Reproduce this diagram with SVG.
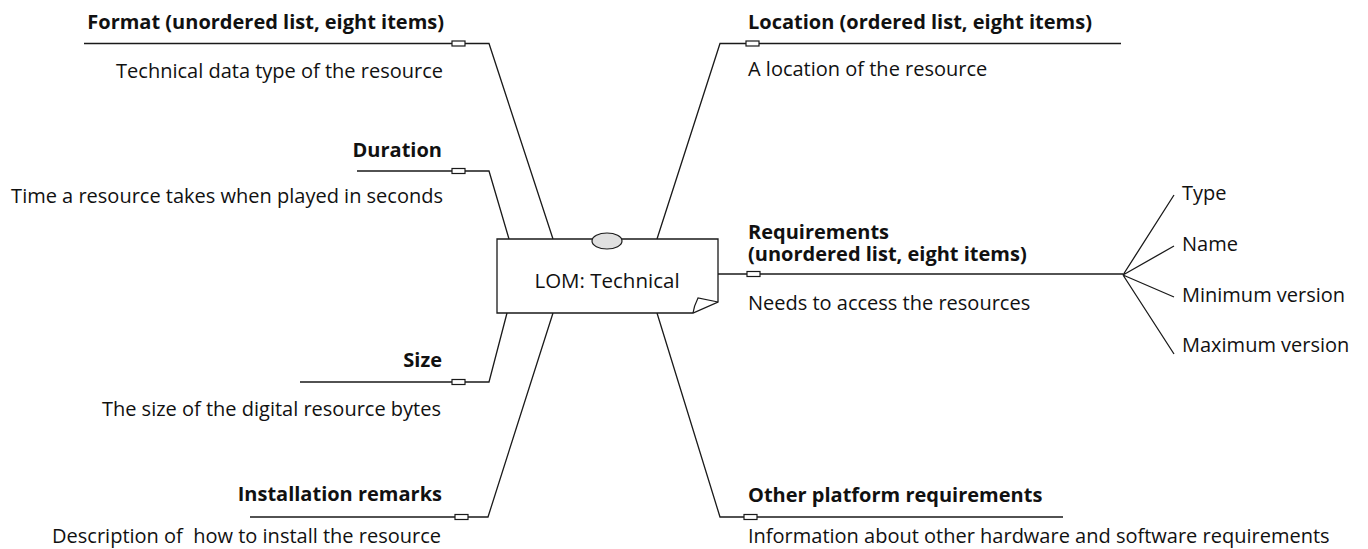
<svg xmlns="http://www.w3.org/2000/svg" width="1368" height="549" viewBox="0 0 1368 549">
<style>
.ln{fill:none;stroke:#1a1a1a;stroke-width:1.3}
.pt{fill:#fff;stroke:#1a1a1a;stroke-width:1.2}
.h{font-family:"Open Sans","Liberation Sans",sans-serif;font-size:20px;font-weight:bold;fill:#111}
.d{font-family:"Open Sans","Liberation Sans",sans-serif;font-size:20px;fill:#111;white-space:pre}
.r{text-anchor:end}
</style>
<rect width="1368" height="549" fill="#fff"/>
<g id="connectors">
<path class="ln" d="M84,43.5 H489 L553,239"/>
<path class="ln" d="M357,171 H489 L509,239"/>
<path class="ln" d="M300,382 H489 L507,313"/>
<path class="ln" d="M250,517 H488 L553,313"/>
<path class="ln" d="M1121,43.5 H720 L657,239"/>
<path class="ln" d="M718,274 H1123"/>
<path class="ln" d="M1063,517 H720 L657,313"/>
<path class="ln" d="M1123,275 L1174,195 M1123,275 L1174,246 M1123,275 L1174,297 M1123,275 L1174,354"/>
<rect class="pt" x="452" y="41" width="13" height="5"/>
<rect class="pt" x="452" y="168.5" width="13" height="5"/>
<rect class="pt" x="452" y="379.5" width="13" height="5"/>
<rect class="pt" x="455" y="514.5" width="13" height="5"/>
<rect class="pt" x="746" y="41" width="13" height="5"/>
<rect class="pt" x="747" y="271.5" width="13" height="5"/>
<rect class="pt" x="744" y="514.5" width="13" height="5"/>
</g>
<g id="center">
<path d="M497,239 H718 V302 L693,313 H497 Z" fill="#fff" stroke="#1a1a1a" stroke-width="1.3"/>
<path d="M718,302 L698,298 Q694,306 693,313" fill="none" stroke="#1a1a1a" stroke-width="1.2"/>
<ellipse cx="607" cy="241" rx="15" ry="8" fill="#e0e0e0" stroke="#1a1a1a" stroke-width="1.2"/>
<text x="607" y="288" text-anchor="middle" font-family="Open Sans,Liberation Sans,sans-serif" font-size="20.5" fill="#111">LOM: Technical</text>
</g>
<g id="format"><text class="h r" x="444" y="29">Format (unordered list, eight items)</text><text class="d r" x="443" y="78">Technical data type of the resource</text></g>
<g id="duration"><text class="h r" x="442" y="157">Duration</text><text class="d r" x="443" y="203">Time a resource takes when played in seconds</text></g>
<g id="size"><text class="h r" x="442" y="367">Size</text><text class="d r" x="441" y="416">The size of the digital resource bytes</text></g>
<g id="installation"><text class="h r" x="442" y="501">Installation remarks</text><text class="d r" x="441" y="543">Description of  how to install the resource</text></g>
<g id="location"><text class="h" x="748" y="29">Location (ordered list, eight items)</text><text class="d" x="748" y="76">A location of the resource</text></g>
<g id="requirements"><text class="h" x="748" y="239">Requirements</text><text class="h" x="748" y="261">(unordered list, eight items)</text><text class="d" x="748" y="310">Needs to access the resources</text></g>
<g id="other"><text class="h" x="748" y="502">Other platform requirements</text><text class="d" x="748" y="543">Information about other hardware and software requirements</text></g>
<g id="type"><text class="d" x="1182" y="200">Type</text></g>
<g id="name"><text class="d" x="1182" y="251">Name</text></g>
<g id="minver"><text class="d" x="1182" y="302">Minimum version</text></g>
<g id="maxver"><text class="d" x="1182" y="352">Maximum version</text></g>
</svg>
